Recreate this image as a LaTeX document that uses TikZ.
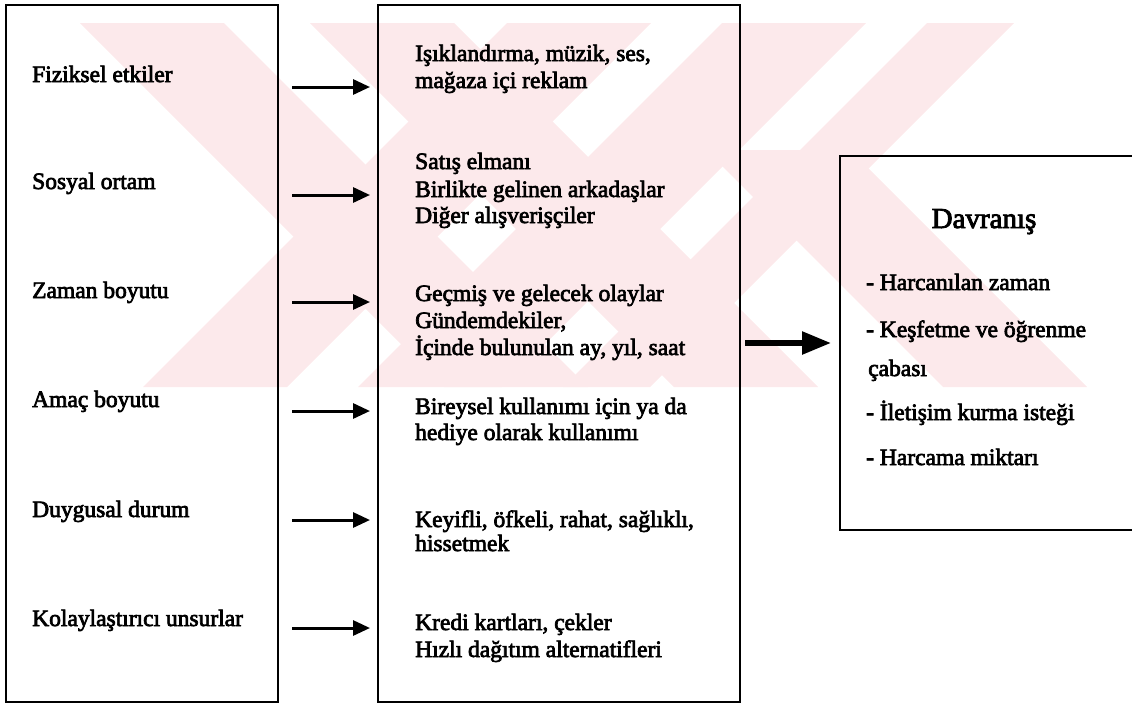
\documentclass[tikz,border=0pt]{standalone}
\usepackage{fontspec}
\setmainfont{Liberation Serif}[AutoFakeBold=3]
\usetikzlibrary{arrows.meta}
\definecolor{wm}{RGB}{252,233,235}
\begin{document}
\begin{tikzpicture}[x=1pt,y=-1pt,
  lbl/.style={anchor=base west, inner sep=0pt, font=\fontsize{23.5}{28}\selectfont\bfseries},
  ttl/.style={anchor=base, inner sep=0pt, font=\fontsize{29}{34}\selectfont\bfseries},
  box/.style={draw, line width=2.4pt, anchor=north west, inner sep=0pt},
  arr/.style={-{Triangle[length=17pt,width=15pt]}, line width=3pt},
  bigarr/.style={-{Triangle[length=29pt,width=22pt]}, line width=5.5pt}]
\useasboundingbox (0,0) rectangle (1132,705);
% watermark
\begin{scope}
\clip (0,23) rectangle (1132,387);
\fill[wm] (80,23) -- (224,23) -- (588,387) -- (444,387) -- cycle;
\fill[wm] (310,23) -- (454,23) -- (818,387) -- (674,387) -- cycle;
\fill[wm] (507,23) -- (651,23) -- (287,387) -- (143,387) -- cycle;
\fill[wm] (722,23) -- (866,23) -- (502,387) -- (358,387) -- cycle;
\fill[wm] (927,23) -- (1014,23) -- (650,387) -- (563,387) -- cycle;
\fill[wm] (706,150) -- (850,150) -- (1087,387) -- (943,387) -- cycle;
\end{scope}
% boxes
\node[box, minimum width=272pt, minimum height=697pt] (lbox) at (5,4) {};
\node[box, minimum width=362pt, minimum height=697pt] (mbox) at (377,4) {};
\node[box, minimum width=320pt, minimum height=374pt] (rbox) at (839,155) {};
% left labels
\node[lbl] (l1) at (32,82) {Fiziksel etkiler};
\node[lbl] (l2) at (32,189) {Sosyal ortam};
\node[lbl] (l3) at (32,298) {Zaman boyutu};
\node[lbl] (l4) at (32,407) {Amaç boyutu};
\node[lbl] (l5) at (32,517) {Duygusal durum};
\node[lbl] (l6) at (32,626) {Kolaylaştırıcı unsurlar};
% middle texts
\node[lbl] (m1a) at (415,61) {Işıklandırma, müzik, ses,};
\node[lbl] (m1b) at (415,88) {mağaza içi reklam};
\node[lbl] (m2a) at (415,169) {Satış elmanı};
\node[lbl] (m2b) at (415,197) {Birlikte gelinen arkadaşlar};
\node[lbl] (m2c) at (415,223) {Diğer alışverişçiler};
\node[lbl] (m3a) at (415,301) {Geçmiş ve gelecek olaylar};
\node[lbl] (m3b) at (415,328) {Gündemdekiler,};
\node[lbl] (m3c) at (415,355) {İçinde bulunulan ay, yıl, saat};
\node[lbl] (m4a) at (415,414) {Bireysel kullanımı için ya da};
\node[lbl] (m4b) at (415,440) {hediye olarak kullanımı};
\node[lbl] (m5a) at (415,527) {Keyifli, öfkeli, rahat, sağlıklı,};
\node[lbl] (m5b) at (415,551) {hissetmek};
\node[lbl] (m6a) at (415,630) {Kredi kartları, çekler};
\node[lbl] (m6b) at (415,657) {Hızlı dağıtım alternatifleri};
% right box
\node[ttl] (dv) at (984,228) {Davranış};
\node[lbl] (r1) at (866,290) {- Harcanılan zaman};
\node[lbl] (r2) at (866,337) {- Keşfetme ve öğrenme};
\node[lbl] (r2b) at (868,376) {çabası};
\node[lbl] (r3) at (866,420) {- İletişim kurma isteği};
\node[lbl] (r4) at (866,465) {- Harcama miktarı};
% arrows
\foreach \i/\y in {1/87,2/195,3/302,4/411,5/520,6/628}{
  \coordinate (s\i) at (292,\y);
  \coordinate (e\i) at (370,\y);
  \draw[arr] (s\i) -- (e\i);
}
\coordinate (bs) at (745,343);
\coordinate (be) at (831,343);
\draw[bigarr] (bs) -- (be);
\end{tikzpicture}
\end{document}
